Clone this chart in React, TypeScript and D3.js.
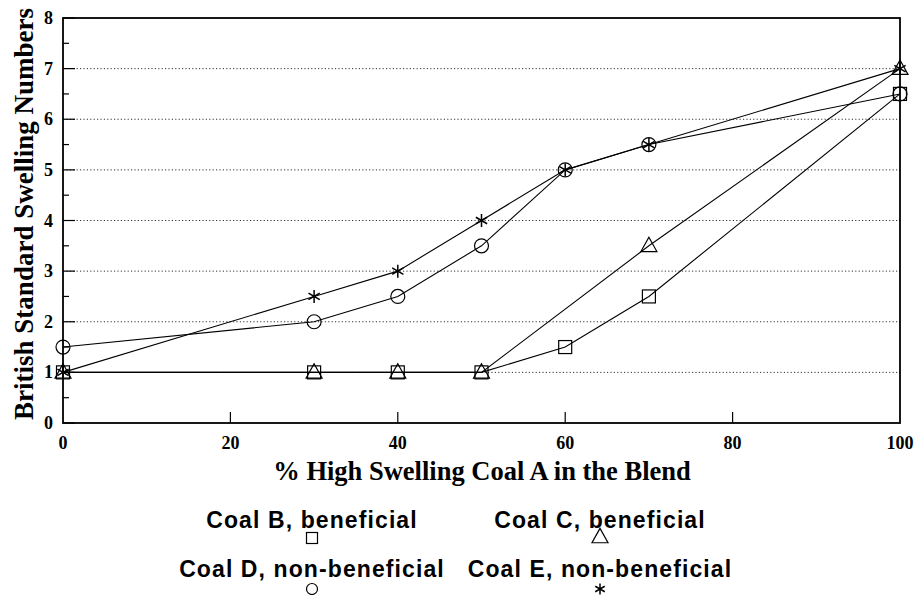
import React from "react";
import * as d3 from "d3";

const xValues = [0, 30, 40, 50, 60, 70, 100];
const coalB = [1, 1, 1, 1, 1.5, 2.5, 6.5];
const coalCx = [0, 30, 40, 50, 70, 100];
const coalC = [1, 1, 1, 1, 3.5, 7];
const coalD = [1.5, 2, 2.5, 3.5, 5, 5.5, 6.5];
const coalE = [1, 2.5, 3, 4, 5, 5.5, 7];
const xTicks = [0, 20, 40, 60, 80, 100];
const yTicks = [0, 1, 2, 3, 4, 5, 6, 7, 8];
const legendLabels = ["Coal B, beneficial", "Coal C, beneficial", "Coal D, non-beneficial", "Coal E, non-beneficial"];

type Shape = "square" | "triangle" | "circle" | "star";

const W = 916, H = 595;
const left = 63, right = 900, top = 18, bottom = 423;

function Marker({ shape, x, y, s }: { shape: Shape; x: number; y: number; s: number }) {
  const st = { fill: "none", stroke: "#000", strokeWidth: 1.2 };
  if (shape === "square") return <rect x={x - s / 2} y={y - s / 2} width={s} height={s} {...st} />;
  if (shape === "circle") return <circle cx={x} cy={y} r={s / 2} {...st} />;
  if (shape === "triangle") {
    const h = s * 0.9;
    return <path d={`M${x},${y - h * 0.6}L${x + s / 2},${y + h * 0.4}L${x - s / 2},${y + h * 0.4}Z`} {...st} />;
  }
  const r = s / 2;
  const arms = [90, 30, 150].map((a) => {
    const t = (a * Math.PI) / 180;
    const dx = r * Math.cos(t), dy = r * Math.sin(t);
    return `M${x - dx},${y - dy}L${x + dx},${y + dy}`;
  });
  return <path d={arms.join("")} fill="none" stroke="#000" strokeWidth={1.5} />;
}

export default function App() {
  const x = d3.scaleLinear().domain([0, 100]).range([left, right]);
  const y = d3.scaleLinear().domain([0, 8]).range([bottom, top]);
  const line = d3.line<[number, number]>().x((d) => x(d[0])).y((d) => y(d[1]));

  const series: { xs: number[]; ys: number[]; shape: Shape }[] = [
    { xs: xValues, ys: coalB, shape: "square" },
    { xs: coalCx, ys: coalC, shape: "triangle" },
    { xs: xValues, ys: coalD, shape: "circle" },
    { xs: xValues, ys: coalE, shape: "star" },
  ];
  const markerSize: Record<Shape, number> = { square: 13, triangle: 16, circle: 14, star: 13 };

  const minor = d3.range(0.5, 8, 1);
  const serif = "'Liberation Serif', 'Times New Roman', serif";
  const sans = "'Liberation Sans', Arial, sans-serif";

  const legendPos = [
    { cx: 312, ty: 528, my: 538 },
    { cx: 600, ty: 528, my: 537 },
    { cx: 312, ty: 577, my: 589 },
    { cx: 600, ty: 577, my: 589 },
  ];
  const legendShapes: Shape[] = ["square", "triangle", "circle", "star"];
  const legendSize: Record<Shape, number> = { square: 11, triangle: 16, circle: 11, star: 11 };

  return (
    <svg width={W} height={H} style={{ position: "absolute", left: 0, top: 0, background: "#fff" }}>
      {yTicks.filter((v) => v > 0 && v < 8).map((v) => (
        <line key={"g" + v} x1={left} x2={right} y1={y(v)} y2={y(v)} stroke="#333" strokeWidth={1} strokeDasharray="1.2,2.2" />
      ))}
      {yTicks.map((v) => (
        <line key={"yt" + v} x1={left} x2={left + 12} y1={y(v)} y2={y(v)} stroke="#000" strokeWidth={1.2} />
      ))}
      {minor.map((v) => (
        <line key={"ym" + v} x1={left} x2={left + 6} y1={y(v)} y2={y(v)} stroke="#000" strokeWidth={1.2} />
      ))}
      {xTicks.filter((v) => v > 0 && v < 100).map((v) => (
        <line key={"xt" + v} x1={x(v)} x2={x(v)} y1={bottom} y2={bottom - 11} stroke="#000" strokeWidth={1.2} />
      ))}
      <rect x={left} y={top} width={right - left} height={bottom - top} fill="none" stroke="#000" strokeWidth={1.8} />
      {series.map((s, i) => (
        <path key={"l" + i} d={line(s.xs.map((xv, j) => [xv, s.ys[j]] as [number, number])) || ""} fill="none" stroke="#000" strokeWidth={1.1} />
      ))}
      {series.map((s, i) =>
        s.xs.map((xv, j) => (
          <Marker key={"m" + i + "-" + j} shape={s.shape} x={x(xv)} y={y(s.ys[j])} s={markerSize[s.shape]} />
        ))
      )}
      {xTicks.map((v) => (
        <text key={"xl" + v} x={x(v)} y={449} textAnchor="middle" fontFamily={serif} fontWeight="bold" fontSize={18}>{v}</text>
      ))}
      {yTicks.map((v) => (
        <text key={"yl" + v} x={53} y={y(v) + 6} textAnchor="end" fontFamily={serif} fontWeight="bold" fontSize={18}>{v}</text>
      ))}
      <text x={482} y={480} textAnchor="middle" fontFamily={serif} fontWeight="bold" fontSize={26.5}>% High Swelling Coal A in the Blend</text>
      <text transform={`translate(33,214) rotate(-90)`} textAnchor="middle" fontFamily={serif} fontWeight="bold" fontSize={27}>British Standard Swelling Numbers</text>
      {legendLabels.map((lab, i) => (
        <g key={"lg" + i}>
          <text x={legendPos[i].cx} y={legendPos[i].ty} textAnchor="middle" fontFamily={sans} fontWeight="bold" fontSize={23} letterSpacing={1.1}>{lab}</text>
          <Marker shape={legendShapes[i]} x={legendPos[i].cx} y={legendPos[i].my} s={legendSize[legendShapes[i]]} />
        </g>
      ))}
    </svg>
  );
}
